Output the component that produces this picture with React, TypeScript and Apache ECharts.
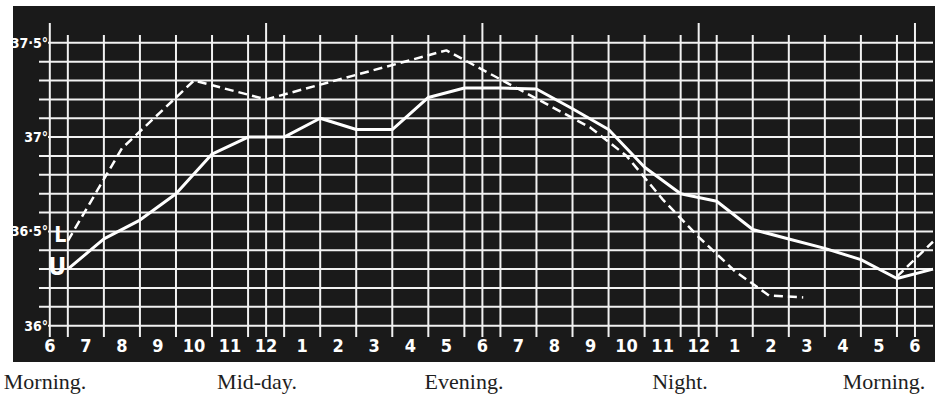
import React, { useEffect, useRef } from "react";
import * as echarts from "echarts";

// ---- axis ticks & labels ----
const hourTicks = [6, 7, 8, 9, 10, 11, 12, 13, 14, 15, 16, 17, 18, 19, 20, 21, 22, 23, 24, 25, 26, 27, 28, 29, 30];
const hourLabels = ["6", "7", "8", "9", "10", "11", "12", "1", "2", "3", "4", "5", "6", "7", "8", "9", "10", "11", "12", "1", "2", "3", "4", "5", "6"];
const tempTicks = [36, 36.5, 37, 37.5];
const tempLabels = ["36°", "36·5°", "37°", "37·5°"];
const gridTemps = [36.0, 36.1, 36.2, 36.3, 36.4, 36.5, 36.6, 36.7, 36.8, 36.9, 37.0, 37.1, 37.2, 37.3, 37.4, 37.5];
const halfHourLines = [6.5, 7.5, 8.5, 9.5, 10.5, 11.5, 12.5, 13.5, 14.5, 15.5, 16.5, 17.5, 18.5, 19.5, 20.5, 21.5, 22.5, 23.5, 24.5, 25.5, 26.5, 27.5, 28.5, 29.5];
const sixHourLines = [6, 12, 18, 24, 30];
const periodNames = ["Morning.", "Mid-day.", "Evening.", "Night.", "Morning."];

// ---- series U (solid) ----
const uHours = [6.5, 7.5, 8.5, 9.5, 10.5, 11.5, 12.5, 13.5, 14.5, 15.5, 16.5, 17.5, 18.5, 19.5, 20.5, 21.5, 22.5, 23.5, 24.5, 25.5, 26.5, 27.5, 28.5, 29.5, 30.5];
const uTemps = [36.3, 36.46, 36.56, 36.7, 36.91, 37.0, 37.0, 37.1, 37.04, 37.04, 37.21, 37.26, 37.26, 37.255, 37.15, 37.04, 36.84, 36.7, 36.66, 36.51, 36.46, 36.41, 36.35, 36.25, 36.3];

// ---- series L (dashed) ----
const lHours = [6.5, 8, 10, 12, 17, 21, 22, 23, 24, 25, 25.95, 26.9, 28.2, 29.5, 30.5];
const lTemps: (number | string)[] = [36.45, 36.94, 37.3, 37.2, 37.46, 37.05, 36.9, 36.67, 36.47, 36.29, 36.16, 36.15, "-", 36.26, 36.445];

const X_MIN = 5.7;
const X_MAX = 30.5;
const Y_MIN = 35.94;
const Y_MAX = 37.605;
const Y_SHORT_TOP = 37.541;
const LABELED_START = 5.95;
const BOLD_FONT = "DejaVu Sans Condensed, Liberation Sans Narrow, sans-serif";

export default function App() {
  const ref = useRef<HTMLDivElement>(null);

  useEffect(() => {
    document.body.style.margin = "0";
    if (!ref.current) return;
    const chart = echarts.init(ref.current, undefined, { renderer: "svg" });

    const gridData: number[][] = [];
    gridTemps.forEach((t) => {
      const labeled = tempTicks.some((v) => Math.abs(v - t) < 1e-6);
      gridData.push([labeled ? LABELED_START : X_MIN, t, X_MAX, t]);
    });
    halfHourLines.forEach((h) => gridData.push([h, Y_MIN, h, Y_SHORT_TOP]));
    sixHourLines.forEach((h) => gridData.push([h, Y_MIN, h, Y_MAX]));

    const makeData = (hours: number[], temps: (number | string)[], letter: string, size: number, offY: number) =>
      hours.map((h, i) => {
        const item: any = { value: [h, temps[i]] };
        if (i === 0) {
          item.label = {
            show: true,
            formatter: letter,
            position: "left",
            distance: 1,
            offset: [0, offY],
            color: "#ffffff",
            fontSize: size,
            fontWeight: "bold",
            fontFamily: BOLD_FONT,
          };
        }
        return item;
      });

    const uData = makeData(uHours, uTemps, "U", 25, -3);
    const lData = makeData(lHours, lTemps, "L", 21, -6);

    const periodX = [45, 257, 464, 680, 884];

    chart.setOption({
      animation: false,
      backgroundColor: "#ffffff",
      grid: { left: 39, right: 6, top: 23, bottom: 58 },
      xAxis: {
        type: "value",
        min: X_MIN,
        max: X_MAX,
        axisLine: { show: false },
        axisTick: { show: false },
        splitLine: { show: false },
        axisLabel: {
          customValues: hourTicks,
          formatter: (v: number) => {
            const i = hourTicks.indexOf(Math.round(v));
            return i >= 0 ? hourLabels[i] : "";
          },
          color: "#ffffff",
          fontSize: 18,
          fontWeight: "bold",
          fontFamily: BOLD_FONT,
          margin: -1,
        },
      },
      yAxis: {
        type: "value",
        min: Y_MIN,
        max: Y_MAX,
        axisLine: { show: false },
        axisTick: { show: false },
        splitLine: { show: false },
        axisLabel: {
          customValues: tempTicks,
          formatter: (v: number) => {
            const i = tempTicks.findIndex((t) => Math.abs(t - v) < 1e-6);
            return i >= 0 ? tempLabels[i] : "";
          },
          color: "#ffffff",
          fontSize: 14,
          fontWeight: "bold",
          fontFamily: BOLD_FONT,
          margin: -9,
        },
      },
      graphic: [
        {
          type: "rect",
          z: -10,
          shape: { x: 13, y: 6, width: 922, height: 356 },
          style: { fill: "#1a1a1a" },
          silent: true,
        },
        ...periodNames.map((name, i) => ({
          type: "text",
          x: periodX[i],
          y: 381,
          style: {
            text: name,
            fill: "#1e1e1e",
            font: "22px 'Liberation Serif', 'DejaVu Serif', serif",
            align: "center",
            verticalAlign: "middle",
          },
        })),
      ],
      series: [
        {
          type: "custom",
          name: "grid",
          silent: true,
          z: 1,
          data: gridData,
          encode: { x: [0, 2], y: [1, 3] },
          renderItem: (params: any, api: any) => {
            const p1 = api.coord([api.value(0), api.value(1)]);
            const p2 = api.coord([api.value(2), api.value(3)]);
            return {
              type: "line",
              shape: { x1: p1[0], y1: p1[1], x2: p2[0], y2: p2[1] },
              style: { stroke: "#f2f2f2", lineWidth: 2 },
            };
          },
        },
        {
          type: "line",
          name: "U",
          z: 3,
          data: uData,
          showSymbol: true,
          symbol: "circle",
          symbolSize: 1,
          itemStyle: { color: "rgba(0,0,0,0)" },
          smooth: false,
          lineStyle: { color: "#ffffff", width: 3 },
        },
        {
          type: "line",
          name: "L",
          z: 3,
          data: lData,
          showSymbol: true,
          symbol: "circle",
          symbolSize: 1,
          itemStyle: { color: "rgba(0,0,0,0)" },
          smooth: false,
          connectNulls: false,
          lineStyle: { color: "#ffffff", width: 2.5, type: [9, 5] },
        },
      ],
    });

    return () => chart.dispose();
  }, []);

  return <div ref={ref} style={{ width: 939, height: 395 }} />;
}
